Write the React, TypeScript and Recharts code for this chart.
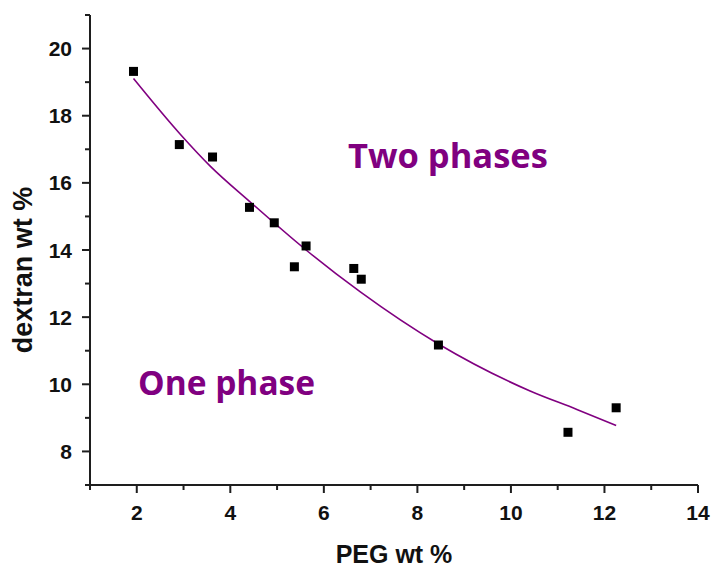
import { ComposedChart, XAxis, YAxis, Scatter, Line } from "recharts";

// measured points (PEG wt %, dextran wt %)
const pegValues = [1.93, 2.91, 3.62, 4.41, 4.94, 5.62, 5.37, 6.64, 6.8, 8.45, 11.22, 12.25];
const dextranValues = [19.32, 17.14, 16.77, 15.27, 14.81, 14.12, 13.5, 13.45, 13.13, 11.17, 8.57, 9.3];

// binodal fit curve
const fitPeg = [1.93, 2.93, 3.57, 4.41, 5.62, 6.78, 8.45, 10.41, 11.41, 12.25];
const fitDextran = [19.11, 17.45, 16.5, 15.45, 14.0, 12.75, 11.2, 9.8, 9.25, 8.77];

const xTicks = [1, 2, 3, 4, 5, 6, 7, 8, 9, 10, 11, 12, 13, 14];
const yTicks = [7, 8, 9, 10, 11, 12, 13, 14, 15, 16, 17, 18, 19, 20, 21];

const points = pegValues.map((x, i) => ({ x, y: dextranValues[i] }));
const curve = fitPeg.map((x, i) => ({ x, y: fitDextran[i] }));

const PURPLE = "#800080";
const AXIS = "#1e1e1e";
const FONT = "'Liberation Sans', Arial, sans-serif";

function XTick(props: any) {
  const { x, y, payload } = props;
  const major = payload.value % 2 === 0;
  return (
    <g>
      <line x1={x} x2={x} y1={y} y2={y + (major ? 8 : 5)} stroke={AXIS} strokeWidth={2} />
      {major && (
        <text x={x} y={y + 35} textAnchor="middle" fontFamily={FONT} fontWeight="bold" fontSize={21} fill="#111">
          {payload.value}
        </text>
      )}
    </g>
  );
}

function YTick(props: any) {
  const { x, y, payload } = props;
  const major = payload.value % 2 === 0;
  return (
    <g>
      <line x1={x} x2={x - (major ? 8 : 5)} y1={y} y2={y} stroke={AXIS} strokeWidth={2} />
      {major && (
        <text x={x - 18} y={y + 7.5} textAnchor="end" fontFamily={FONT} fontWeight="bold" fontSize={21} fill="#111">
          {payload.value}
        </text>
      )}
    </g>
  );
}

function SquareDot(props: any) {
  const { cx, cy } = props;
  return <rect x={cx - 4.5} y={cy - 4.5} width={9} height={9} fill="#000" />;
}

export default function App() {
  return (
    <div style={{ position: "absolute", left: 0, top: 0, width: 713, height: 569, background: "#fff" }}>
      <ComposedChart width={713} height={569} margin={{ top: 15, right: 15, bottom: 44, left: 30 }}>
        <XAxis
          type="number"
          dataKey="x"
          domain={[1, 14]}
          ticks={xTicks}
          interval={0}
          height={40}
          tickSize={0}
          tickMargin={0}
          tickLine={false}
          axisLine={{ stroke: AXIS, strokeWidth: 2 }}
          tick={(p: any) => <XTick {...p} />}
          allowDataOverflow
        />
        <YAxis
          type="number"
          dataKey="y"
          domain={[7, 21]}
          ticks={yTicks}
          interval={0}
          width={60}
          tickSize={0}
          tickMargin={0}
          tickLine={false}
          axisLine={{ stroke: AXIS, strokeWidth: 2 }}
          tick={(p: any) => <YTick {...p} />}
          allowDataOverflow
        />
        <Line
          data={curve}
          dataKey="y"
          type="monotone"
          stroke={PURPLE}
          strokeWidth={1.6}
          dot={false}
          activeDot={false}
          isAnimationActive={false}
        />
        <Scatter data={points} dataKey="y" shape={(p: any) => <SquareDot {...p} />} isAnimationActive={false} />
      </ComposedChart>
      <svg width={713} height={569} style={{ position: "absolute", left: 0, top: 0, pointerEvents: "none" }}>
        <text x={394} y={563} textAnchor="middle" fontFamily={FONT} fontWeight="bold" fontSize={25} fill="#111">
          PEG wt %
        </text>
        <text
          x={32}
          y={270}
          transform="rotate(-90 32 270)"
          textAnchor="middle"
          fontFamily={FONT}
          fontWeight="bold"
          fontSize={27}
          fill="#111"
        >
          dextran wt %
        </text>
        <text x={348} y={168} fontFamily="'Open Sans', sans-serif" fontWeight="bold" fontSize={34.5} fill={PURPLE}>
          Two phases
        </text>
        <text x={138} y={395} fontFamily="'Open Sans', sans-serif" fontWeight="bold" fontSize={33.5} fill={PURPLE}>
          One phase
        </text>
      </svg>
    </div>
  );
}
